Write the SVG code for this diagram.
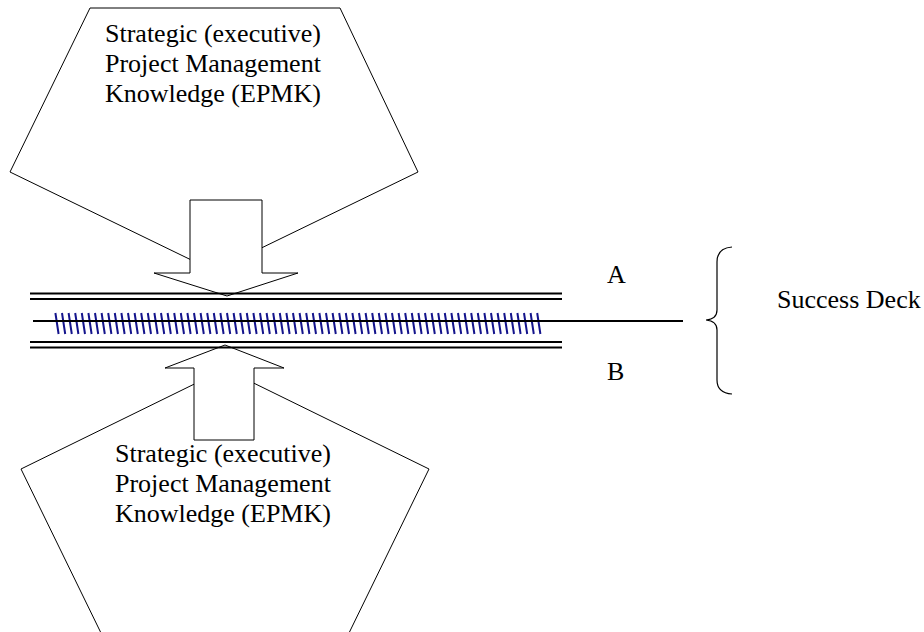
<svg xmlns="http://www.w3.org/2000/svg" width="924" height="632" viewBox="0 0 924 632">
  <style>
    .shape { fill: #ffffff; stroke: #000000; stroke-width: 1; stroke-linejoin: miter; }
    .label { font-size: 26px; fill: #000000; }
    .rail { stroke: #000000; stroke-width: 2.2; fill: none; }
    .axis { stroke: #000000; stroke-width: 1.8; fill: none; }
    .brace { stroke: #000000; stroke-width: 1.2; fill: none; }
    .hatch { stroke: #14148c; stroke-width: 2; fill: none; }
  </style>

  <rect width="924" height="632" fill="#ffffff"/>

  <g font-family="'Liberation Serif', 'DejaVu Serif', serif">
    <!-- upper knowledge source -->
    <g id="epmk-top">
      <polygon class="shape" points="90,8 340,8 418,172 214,271 10,172"/>
      <text class="label" x="105" y="42">Strategic (executive)</text>
      <text class="label" x="105" y="72">Project Management</text>
      <text class="label" x="105" y="102">Knowledge (EPMK)</text>
    </g>

    <!-- lower knowledge source -->
    <g id="epmk-bottom">
      <polygon class="shape" points="225,369 429,469 349,633 101,633 21,469"/>
      <text class="label" x="115" y="462">Strategic (executive)</text>
      <text class="label" x="115" y="492">Project Management</text>
      <text class="label" x="115" y="522">Knowledge (EPMK)</text>
    </g>

    <!-- arrows pressing onto the deck -->
    <g id="connectors">
      <polygon class="shape" points="190,200 262,200 262,273 298,273 227,296 154,273 190,273"/>
      <polygon class="shape" points="194,440 254,440 254,368 284,368 225,345 165,368 194,368"/>
    </g>

    <!-- deck: double rails, hatched core and centre axis -->
    <g id="deck">
      <line class="rail" x1="30" y1="293.5" x2="562" y2="293.5"/>
      <line class="rail" x1="30" y1="299" x2="562" y2="299"/>
      <line class="rail" x1="30" y1="342" x2="562" y2="342"/>
      <line class="rail" x1="30" y1="347.5" x2="562" y2="347.5"/>
      <path class="hatch" d="M55.4,313 l3.2,21
        m3.4,-21 l3.2,21 m3.4,-21 l3.2,21 m3.4,-21 l3.2,21 m3.4,-21 l3.2,21 m3.4,-21 l3.2,21
        m3.4,-21 l3.2,21 m3.4,-21 l3.2,21 m3.4,-21 l3.2,21 m3.4,-21 l3.2,21 m3.4,-21 l3.2,21
        m3.4,-21 l3.2,21 m3.4,-21 l3.2,21 m3.4,-21 l3.2,21 m3.4,-21 l3.2,21 m3.4,-21 l3.2,21
        m3.4,-21 l3.2,21 m3.4,-21 l3.2,21 m3.4,-21 l3.2,21 m3.4,-21 l3.2,21 m3.4,-21 l3.2,21
        m3.4,-21 l3.2,21 m3.4,-21 l3.2,21 m3.4,-21 l3.2,21 m3.4,-21 l3.2,21 m3.4,-21 l3.2,21
        m3.4,-21 l3.2,21 m3.4,-21 l3.2,21 m3.4,-21 l3.2,21 m3.4,-21 l3.2,21 m3.4,-21 l3.2,21
        m3.4,-21 l3.2,21 m3.4,-21 l3.2,21 m3.4,-21 l3.2,21 m3.4,-21 l3.2,21 m3.4,-21 l3.2,21
        m3.4,-21 l3.2,21 m3.4,-21 l3.2,21 m3.4,-21 l3.2,21 m3.4,-21 l3.2,21 m3.4,-21 l3.2,21
        m3.4,-21 l3.2,21 m3.4,-21 l3.2,21 m3.4,-21 l3.2,21 m3.4,-21 l3.2,21 m3.4,-21 l3.2,21
        m3.4,-21 l3.2,21 m3.4,-21 l3.2,21 m3.4,-21 l3.2,21 m3.4,-21 l3.2,21 m3.4,-21 l3.2,21
        m3.4,-21 l3.2,21 m3.4,-21 l3.2,21 m3.4,-21 l3.2,21 m3.4,-21 l3.2,21 m3.4,-21 l3.2,21
        m3.4,-21 l3.2,21 m3.4,-21 l3.2,21 m3.4,-21 l3.2,21 m3.4,-21 l3.2,21 m3.4,-21 l3.2,21
        m3.4,-21 l3.2,21 m3.4,-21 l3.2,21 m3.4,-21 l3.2,21 m3.4,-21 l3.2,21 m3.4,-21 l3.2,21
        m3.4,-21 l3.2,21 m3.4,-21 l3.2,21 m3.4,-21 l3.2,21 m3.4,-21 l3.2,21 m3.4,-21 l3.2,21
        m3.4,-21 l3.2,21 m3.4,-21 l3.2,21 m3.4,-21 l3.2,21"/>
      <line class="axis" x1="33" y1="321" x2="683" y2="321"/>
    </g>

    <g id="label-a">
      <text class="label" x="607" y="283">A</text>
    </g>
    <g id="label-b">
      <text class="label" x="607" y="380">B</text>
    </g>

    <g id="success-deck">
      <path class="brace" d="M732,247 Q717,248 717,262 L717,310 Q717,319 706,320 Q717,321 717,330 L717,380 Q717,393 732,394"/>
      <text class="label" x="777" y="308">Success Deck</text>
    </g>
  </g>
</svg>
